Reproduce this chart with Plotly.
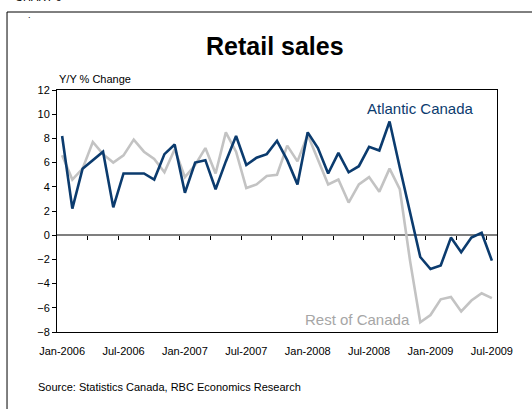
import plotly.graph_objects as go

# Monthly year-over-year % change in retail sales, Jan-2006 .. Jul-2009
atlantic = [8.2, 2.2, 5.5, 6.2, 6.9, 2.3, 5.1, 5.1, 5.1, 4.6, 6.7, 7.5,
            3.5, 6.0, 6.2, 3.8, 6.1, 8.2, 5.8, 6.4, 6.7, 7.8, 6.2, 4.2,
            8.5, 7.2, 5.1, 6.8, 5.2, 5.7, 7.3, 7.0, 9.4, 5.6, 1.8, -1.8,
            -2.8, -2.5, -0.2, -1.4, -0.2, 0.2, -2.1]
rest_of_canada = [6.6, 4.6, 5.5, 7.7, 6.7, 6.0, 6.6, 7.9, 6.9, 6.3, 5.2, 7.1,
                  4.8, 5.8, 7.2, 5.1, 8.5, 6.9, 3.9, 4.2, 4.9, 5.0, 7.4, 6.1,
                  8.3, 6.3, 4.2, 4.6, 2.7, 4.2, 4.8, 3.6, 5.5, 3.8, -2.1, -7.2,
                  -6.6, -5.3, -5.1, -6.3, -5.4, -4.8, -5.2]
tick_labels = ["Jan-2006", "Jul-2006", "Jan-2007", "Jul-2007",
               "Jan-2008", "Jul-2008", "Jan-2009", "Jul-2009"]
y_ticks = [-8, -6, -4, -2, 0, 2, 4, 6, 8, 10, 12]

months = list(range(len(atlantic)))
label_pos = months[::6]
minor_pos = [m + 0.5 for m in months[2::3]]

NAVY = "#0B3B6E"
GREY = "#C3C3C3"
FONT = "Arial, Liberation Sans, sans-serif"

fig = go.Figure()
fig.add_trace(go.Scatter(x=months, y=rest_of_canada, mode="lines",
                         line=dict(color=GREY, width=2.6), name="Rest of Canada"))
fig.add_trace(go.Scatter(x=months, y=atlantic, mode="lines",
                         line=dict(color=NAVY, width=2.6), name="Atlantic Canada"))

fig.update_layout(
    width=532, height=409,
    margin=dict(l=57, r=35, t=90, b=77),
    paper_bgcolor="white", plot_bgcolor="white",
    showlegend=False,
    font=dict(family=FONT, size=11, color="black"),
    xaxis=dict(range=[-0.5, len(months) - 0.5], tickvals=label_pos, ticktext=tick_labels,
               ticks="", ticklabelstandoff=9, showgrid=False, zeroline=False,
               showline=True, linecolor="black", linewidth=1, mirror=True,
               tickfont=dict(size=11)),
    xaxis2=dict(range=[-0.5, len(months) - 0.5], overlaying="x", anchor="free", position=0.4,
                tickvals=minor_pos, ticks="outside", ticklen=4, tickcolor="black",
                showticklabels=False, showgrid=False, zeroline=False, showline=False),
    yaxis=dict(range=[-8, 12], tickvals=y_ticks, ticks="outside", ticklen=4,
               tickcolor="black", showgrid=False, zeroline=True,
               zerolinecolor="#7f7f7f", zerolinewidth=1.5,
               showline=True, linecolor="black", linewidth=1, mirror=True,
               tickfont=dict(size=11)),
)

# invisible companion so the tick-mark axis on the zero line gets drawn
fig.add_trace(go.Scatter(x=months, y=atlantic, xaxis="x2", mode="lines",
                         line=dict(width=0), opacity=0, hoverinfo="skip"))

fig.add_annotation(text="<b>Retail sales</b>", xref="paper", yref="paper",
                   x=0.495, y=1.182, yanchor="middle", showarrow=False,
                   font=dict(size=25, family=FONT))
fig.add_annotation(text="Y/Y % Change", xref="paper", yref="paper",
                   x=0.0, xanchor="left", y=1.0, yanchor="bottom", yshift=3,
                   showarrow=False, font=dict(size=11, family=FONT))
fig.add_annotation(text="Atlantic Canada", x=35.0, y=10.45, showarrow=False,
                   font=dict(size=15, color=NAVY, family=FONT))
fig.add_annotation(text="Rest of Canada", x=28.9, y=-6.95, showarrow=False,
                   font=dict(size=15, color="#A6A6A6", family=FONT))
fig.add_annotation(text="Source: Statistics Canada, RBC Economics Research",
                   xref="paper", yref="paper", x=-0.048, xanchor="left",
                   y=-0.228, yanchor="middle", showarrow=False,
                   font=dict(size=11, family=FONT))
fig.add_annotation(text="CHART 6", xref="paper", yref="paper", x=-0.1, xanchor="left",
                   y=1.35, yanchor="bottom", showarrow=False,
                   font=dict(size=11, family=FONT))
fig.add_annotation(text=".", xref="paper", yref="paper", x=-0.07, y=1.31,
                   yanchor="middle", showarrow=False, font=dict(size=9, family=FONT))

# outer chart frame
fig.add_shape(type="line", xref="paper", yref="paper", x0=-0.1136, x1=1.1,
              y0=1.3223, y1=1.3223, line=dict(color="black", width=1))
fig.add_shape(type="line", xref="paper", yref="paper", x0=-0.1136, x1=-0.1136,
              y0=1.3223, y1=-0.4, line=dict(color="black", width=1))

fig.write_html("out.html")
